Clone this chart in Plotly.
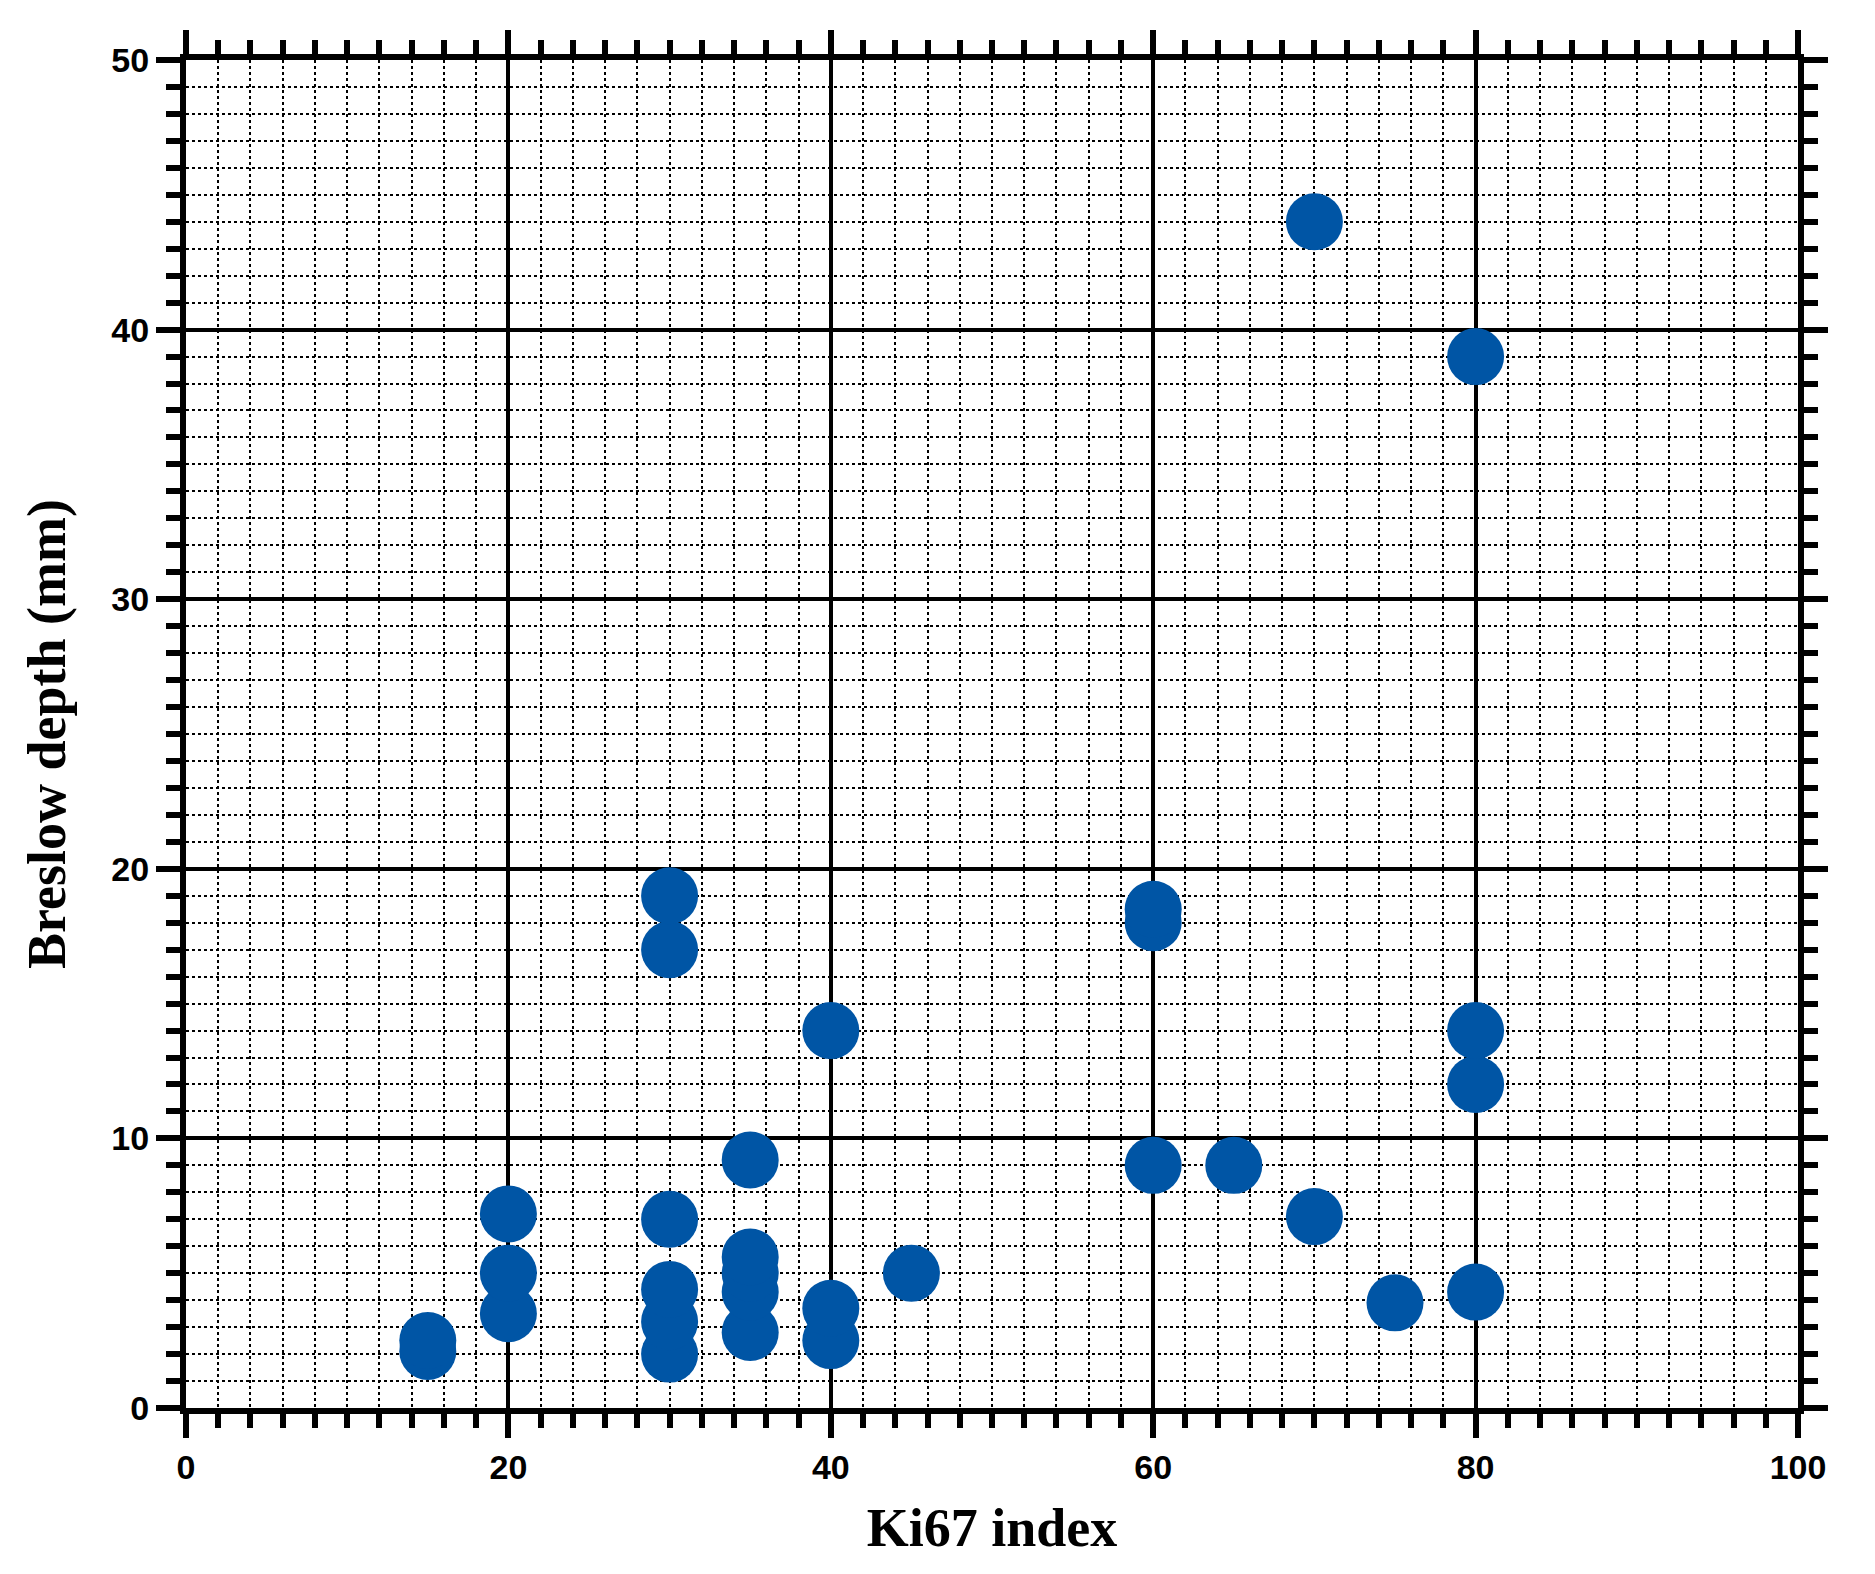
import plotly.graph_objects as go

ki67 = [15, 15, 20, 20, 20, 30, 30, 30, 30, 30, 30, 35, 35, 35, 35, 35, 40, 40, 40, 45,
        60, 60, 60, 65, 70, 70, 75, 80, 80, 80, 80]
breslow = [2.1, 2.5, 3.5, 5.0, 7.2, 2.0, 3.2, 4.4, 7.0, 17.0, 19.0, 2.8, 4.3, 5.0, 5.6, 9.2,
           2.5, 3.7, 14.0, 5.0, 9.0, 18.0, 18.5, 9.0, 7.1, 44.0, 3.9, 4.3, 12.0, 14.0, 39.0]

fig = go.Figure(go.Scatter(x=ki67, y=breslow, mode="markers",
                           marker=dict(size=57, color="#0055A5", line=dict(width=0))))

tickfont = dict(family="Liberation Sans", size=34, color="black")
titlefont = dict(family="Liberation Serif", size=54, color="black")
common = dict(showline=True, linecolor="black", linewidth=6, mirror="allticks",
              ticks="outside", ticklen=24, tickwidth=6, tickcolor="black",
              showgrid=True, gridcolor="black", gridwidth=4, zeroline=False,
              tickfont=tickfont, title_font=titlefont)
fig.update_xaxes(range=[0, 100], dtick=20, title_text="<b>Ki67 index</b>",
                 tickprefix="<b>", ticksuffix="</b>", title_standoff=25,
                 minor=dict(dtick=2, ticks="outside", ticklen=14, tickwidth=6, tickcolor="black",
                            showgrid=True, gridcolor="black", gridwidth=1.5, griddash="dot"),
                 **common)
fig.update_yaxes(range=[0, 50], dtick=10, title_text="<b>Breslow depth (mm)</b>",
                 tickprefix="<b>", ticksuffix="</b>", title_standoff=30,
                 minor=dict(dtick=1, ticks="outside", ticklen=14, tickwidth=6, tickcolor="black",
                            showgrid=True, gridcolor="black", gridwidth=1.5, griddash="dot"),
                 **common)
fig.update_layout(width=1875, height=1574, plot_bgcolor="white", paper_bgcolor="white",
                  margin=dict(l=178, r=85, t=52, b=174), showlegend=False)
fig.write_html("out.html")
